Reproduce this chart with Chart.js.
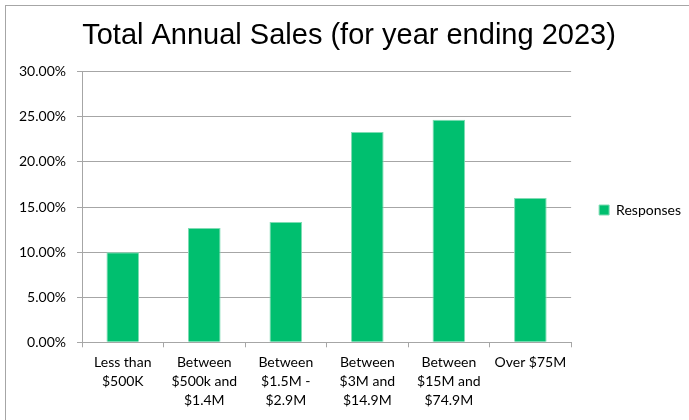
<!DOCTYPE html>
<html>
<head>
<meta charset="utf-8">
<script src="https://cdn.jsdelivr.net/npm/chart.js@4.4.0/dist/chart.umd.min.js"></script>
<style>
    html, body { margin: 0; padding: 0; background: #fff; }
    #wrap { position: relative; width: 689px; height: 420px; overflow: hidden; }
    #frame {
        position: absolute; left: 5px; top: 5px; width: 800px; height: 500px;
        border-top: 1px solid #a6a6a6; border-left: 1px solid #a6a6a6;
    }
    #salesChart { position: absolute; left: 0; top: 0; }
</style>
</head>
<body>
<div id="wrap">
    <div id="frame"></div>
    <canvas id="salesChart" width="689" height="420"></canvas>
</div>
<script>
    const categories = [
        ['Less than', '$500K'],
        ['Between', '$500k and', '$1.4M'],
        ['Between', '$1.5M -', '$2.9M'],
        ['Between', '$3M and', '$14.9M'],
        ['Between', '$15M and', '$74.9M'],
        ['Over $75M']
    ];
    const responses = [10.00, 12.67, 13.33, 23.33, 24.67, 16.00];
    const yTicks = [0, 5, 10, 15, 20, 25, 30];

    const GREEN = '#00BF6F';
    const GRID = '#a6a6a6';
    const LABEL_FONT = 'Lato, "Open Sans", sans-serif';

    // nudges the legend and title a little to the right of where layout puts them
    const boxShift = {
        id: 'boxShift',
        afterLayout(chart) {
            const moves = [[chart.legend, 13], [chart.titleBlock, 6]];
            for (const [box, dx] of moves) {
                if (box) {
                    box.left += dx;
                    box.right += dx;
                }
            }
        }
    };

    new Chart(document.getElementById('salesChart'), {
        type: 'bar',
        data: {
            labels: categories,
            datasets: [{
                label: 'Responses',
                data: responses,
                backgroundColor: GREEN,
                borderColor: '#7fdcb4',
                borderWidth: 1,
                barPercentage: 0.4,
                categoryPercentage: 1
            }]
        },
        options: {
            responsive: false,
            animation: false,
            layout: {
                padding: { left: 8, right: 11, top: 4, bottom: 4 }
            },
            plugins: {
                title: {
                    display: true,
                    text: 'Total Annual Sales (for year ending 2023)',
                    color: '#000',
                    font: { family: '"Liberation Sans", Arial, sans-serif', size: 29, weight: 'normal' },
                    padding: { top: 15, bottom: 18 }
                },
                legend: {
                    position: 'right',
                    labels: {
                        color: '#000',
                        boxWidth: 10,
                        boxHeight: 10,
                        padding: 15,
                        font: { family: LABEL_FONT, size: 14 }
                    }
                },
                tooltip: { enabled: false }
            },
            scales: {
                x: {
                    grid: {
                        drawOnChartArea: false,
                        drawTicks: true,
                        tickLength: 5,
                        color: GRID
                    },
                    border: { color: GRID, width: 1 },
                    ticks: {
                        color: '#000',
                        maxRotation: 0,
                        autoSkip: false,
                        padding: 6,
                        font: { family: LABEL_FONT, size: 14, lineHeight: 1.35 }
                    }
                },
                y: {
                    min: 0,
                    max: 30,
                    afterBuildTicks(scale) {
                        scale.ticks = yTicks.map(v => ({ value: v }));
                    },
                    grid: {
                        color: GRID,
                        lineWidth: 1,
                        tickLength: 5
                    },
                    border: { color: GRID, width: 1 },
                    ticks: {
                        color: '#000',
                        padding: 11,
                        font: { family: LABEL_FONT, size: 14 },
                        callback: v => v.toFixed(2) + '%'
                    }
                }
            }
        },
        plugins: [boxShift]
    });
</script>
</body>
</html>
